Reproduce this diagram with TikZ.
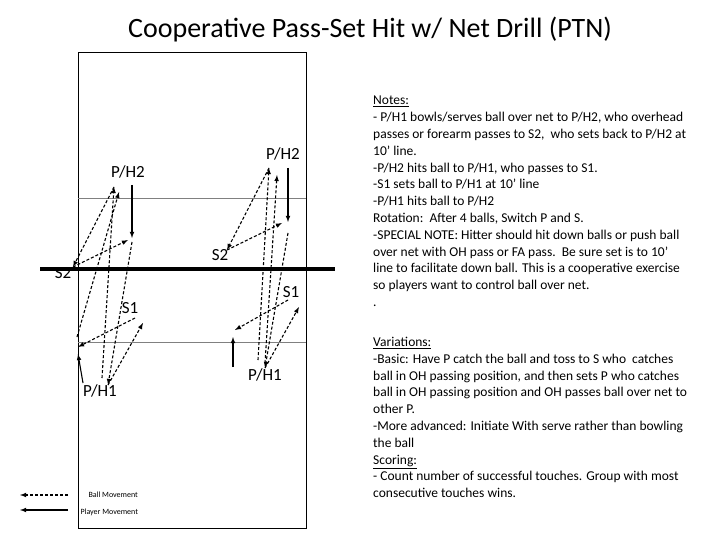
\documentclass[tikz,border=0pt]{standalone}
\usepackage{fontspec}
\setmainfont{Carlito}
\usetikzlibrary{arrows}
\begin{document}
\begin{tikzpicture}[x=1pt,y=-1pt,>=latex,
    ball/.style={->,line width=1.1pt,densely dashed},
    player/.style={->,line width=1.1pt},
    lbl/.style={font=\fontsize{17}{17}\selectfont}]
  \useasboundingbox (0,0) rectangle (720,540);
  \node (title) at (370,30) {\fontsize{28}{30}\selectfont Cooperative Pass-Set Hit w/ Net Drill (PTN)};

  %% court
  \draw (78,52) rectangle (306,528);
  \draw[gray] (78,198) -- (306,198);
  \draw[gray] (78,342) -- (306,342);
  \draw[line width=3.5pt] (40,269) -- (335,269);

  %% left drill
  \node[lbl] (lph2) at (128,172) {P/H2};
  \node[lbl] (ls2)  at (63,273)  {S2};
  \node[lbl] (ls1)  at (130,308) {S1};
  \node[lbl] (lph1) at (100,391) {P/H1};
  \coordinate (la1) at (102,378); \coordinate (la2) at (114,187);
  \coordinate (lb1) at (77,337);  \coordinate (lb2) at (119,192);
  \coordinate (lc)  at (73,267);  \coordinate (ld)  at (128,240);
  \coordinate (le)  at (132,242); \coordinate (lf)  at (108,385);
  \coordinate (lg)  at (143,323); \coordinate (lh)  at (135,318);
  \coordinate (li)  at (78,347);
  \coordinate (lp1) at (132,185); \coordinate (lp2) at (132,238);
  \coordinate (lq1) at (83,383);  \coordinate (lq2) at (78,354);
  \draw[ball] (la1) -- (la2);
  \draw[ball] (lb1) -- (lb2);
  \draw[ball] (la2) -- (lc);
  \draw[ball] (lc) -- (ld);
  \draw[ball] (le) -- (lf);
  \draw[ball] (lf) -- (lg);
  \draw[ball] (lh) -- (li);
  \draw[player] (lp1) -- (lp2);
  \draw[player] (lq1) -- (lq2);

  %% right drill
  \node[lbl] (rph2) at (283,154) {P/H2};
  \node[lbl] (rs2)  at (220,255) {S2};
  \node[lbl] (rs1)  at (291,292) {S1};
  \node[lbl] (rph1) at (265,375) {P/H1};
  \coordinate (ra1) at (258,360); \coordinate (ra2) at (269,168);
  \coordinate (rb1) at (265,363); \coordinate (rb2) at (277,175);
  \coordinate (rc)  at (227,250); \coordinate (rd)  at (282,223);
  \coordinate (re)  at (288,233); \coordinate (rf)  at (265,368);
  \coordinate (rg)  at (299,307); \coordinate (rh)  at (288,300);
  \coordinate (ri)  at (235,330);
  \coordinate (rp1) at (288,168); \coordinate (rp2) at (288,222);
  \coordinate (rq1) at (233,367); \coordinate (rq2) at (233,337);
  \draw[ball] (ra1) -- (ra2);
  \draw[ball] (rb1) -- (rb2);
  \draw[ball] (ra2) -- (rc);
  \draw[ball] (rc) -- (rd);
  \draw[ball] (re) -- (rf);
  \draw[ball] (rf) -- (rg);
  \draw[ball] (rh) -- (ri);
  \draw[player] (rp1) -- (rp2);
  \draw[player] (rq1) -- (rq2);

  %% legend
  \coordinate (k1) at (68,495); \coordinate (k2) at (20,495);
  \coordinate (k3) at (68,510); \coordinate (k4) at (20,510);
  \draw[ball] (k1) -- (k2);
  \draw[player] (k3) -- (k4);
  \node[anchor=west,font=\fontsize{8}{8}\selectfont] (kball) at (85,495) {Ball Movement};
  \node[anchor=west,font=\fontsize{8}{8}\selectfont] (kplay) at (77,512) {Player Movement};

  %% notes
  \node[anchor=north west,align=left,inner sep=0pt,
        font=\fontsize{13.5}{16.8}\selectfont] (notes) at (373,96) {%
    \underline{Notes:}\\
    - P/H1 bowls/serves ball over net to P/H2, who overhead\\
    passes or forearm passes to S2,\ \ who sets back to P/H2 at\\
    10’ line.\\
    -P/H2 hits ball to P/H1, who passes to S1.\\
    -S1 sets ball to P/H1 at 10’ line\\
    -P/H1 hits ball to P/H2\\
    Rotation:\ \ After 4 balls, Switch P and S.\\
    -SPECIAL NOTE: Hitter should hit down balls or push ball\\
    over net with OH pass or FA pass.\ \ Be sure set is to 10’\\
    line to facilitate down ball. This is a cooperative exercise\\
    so players want to control ball over net.\\
    .};
  \node[anchor=north west,align=left,inner sep=0pt,
        font=\fontsize{13.5}{16.8}\selectfont] (vars) at (373,337) {%
    \underline{Variations:}\\
    -Basic: Have P catch the ball and toss to S who\ \ catches\\
    ball in OH passing position, and then sets P who catches\\
    ball in OH passing position and OH passes ball over net to\\
    other P.\\
    -More advanced: Initiate With serve rather than bowling\\
    the ball\\
    \underline{Scoring:}\\
    - Count number of successful touches. Group with most\\
    consecutive touches wins.};
\end{tikzpicture}
\end{document}
